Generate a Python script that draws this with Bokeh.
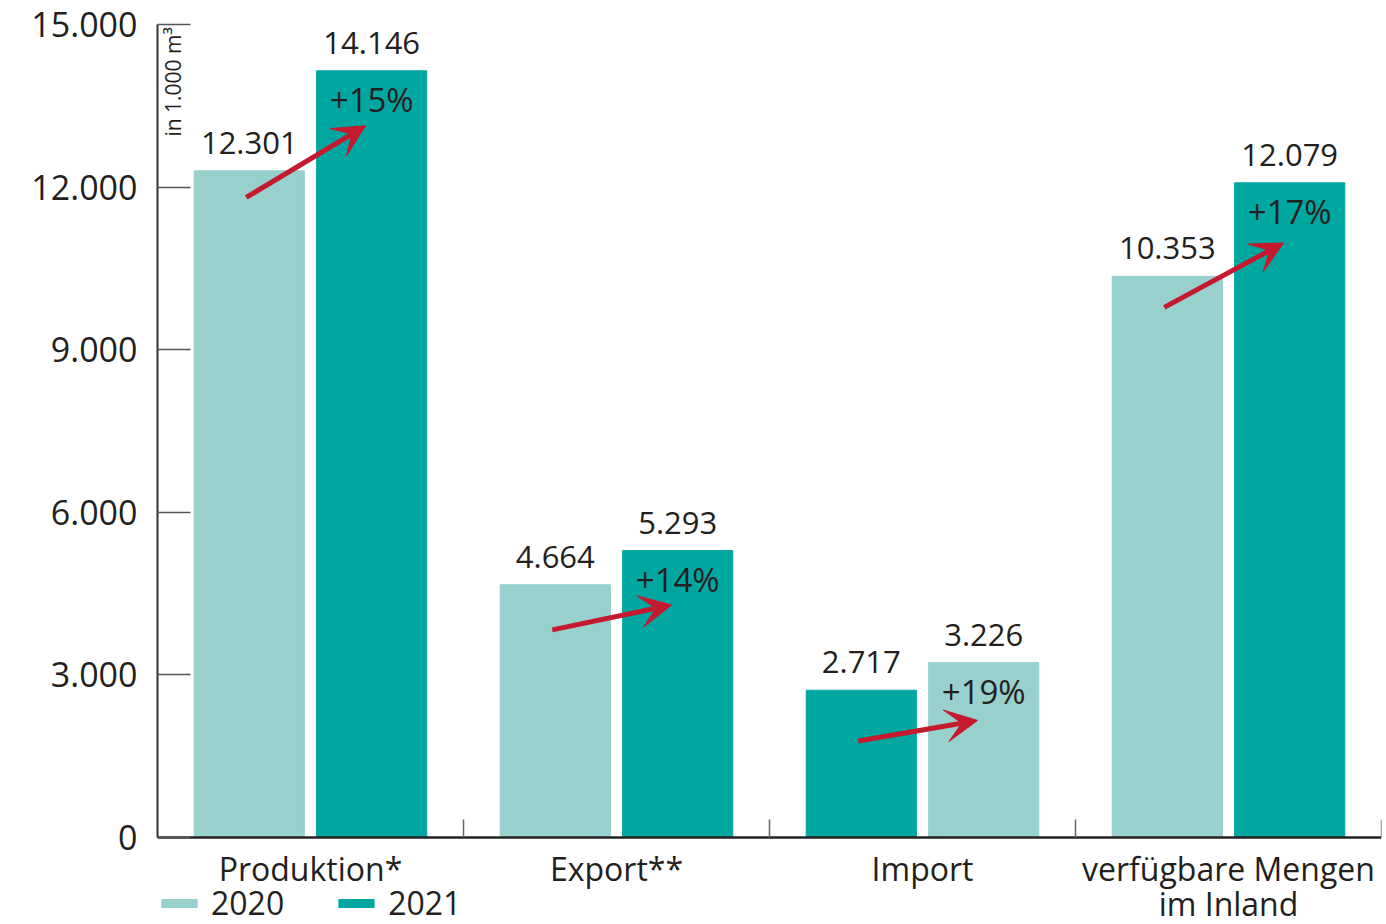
import math
from bokeh.plotting import figure
from bokeh.models import (ColumnDataSource, FixedTicker, Arrow, VeeHead, Label,
                          Legend, LegendItem, Range1d)
from bokeh.core.properties import value
from bokeh.embed import file_html
from bokeh.resources import INLINE

# ---------------- data ----------------
categories = ["Produktion*", "Export**", "Import", "verfügbare Mengen\nim Inland"]
values_2020 = [12301, 4664, 2717, 10353]
values_2021 = [14146, 5293, 3226, 12079]
labels_2020 = ["12.301", "4.664", "2.717", "10.353"]
labels_2021 = ["14.146", "5.293", "3.226", "12.079"]
change_pct = ["+15%", "+14%", "+19%", "+17%"]
# arrow start / end heights (in 1.000 m³)
arrow_from = [11810, 3830, 1780, 9780]
arrow_to = [13130, 4290, 2160, 10970]
y_ticks = [0, 3000, 6000, 9000, 12000, 15000]
y_tick_labels = ["0", "3.000", "6.000", "9.000", "12.000", "15.000"]
unit_label = "in 1.000 m³"
swapped_colour_categories = ["Import"]

# ---------------- style ----------------
LIGHT = "#97d0cc"
DARK = "#00a7a1"
RED = "#c51a2e"
TEXT = "#231f20"
FONT = "Open Sans"
OFF = 0.2
BAR_W = 0.36

W, H = 1384, 924
TOP_PAD = 24          # px above the 15.000 line
ZERO_PX = 837         # px from the top where the value 0 lies
Y_MAX = 15000
plot_px = ZERO_PX - TOP_PAD
below_px = H - ZERO_PX
y_start = -Y_MAX * below_px / plot_px

centers = [i + 0.5 for i in range(len(categories))]
col_2020 = [DARK if c in swapped_colour_categories else LIGHT for c in categories]
col_2021 = [LIGHT if c in swapped_colour_categories else DARK for c in categories]

src20 = ColumnDataSource(dict(x=[c - OFF for c in centers], top=values_2020,
                              lab=labels_2020, color=col_2020))
src21 = ColumnDataSource(dict(x=[c + OFF for c in centers], top=values_2021,
                              lab=labels_2021, pct=change_pct, color=col_2021))

p = figure(width=W, height=H, output_backend="svg", toolbar_location=None,
           x_range=Range1d(0, len(categories)), y_range=Range1d(y_start, Y_MAX),
           min_border_left=157, min_border_right=3, min_border_top=TOP_PAD,
           min_border_bottom=0, outline_line_color=None)
p.xgrid.visible = False
p.ygrid.visible = False
p.background_fill_color = "white"
p.border_fill_color = "white"

r20 = p.vbar(x="x", top="top", bottom=0, width=BAR_W, color="color", source=src20)
r21 = p.vbar(x="x", top="top", bottom=0, width=BAR_W, color="color", source=src21)

# value labels
for src in (src20, src21):
    p.text(x="x", y="top", text="lab", source=src, text_font=value(FONT),
           text_font_size="31px", text_color=TEXT, text_align="center",
           text_baseline="alphabetic", y_offset=-28)
# percentage labels inside 2021 bars
p.text(x="x", y="top", text="pct", source=src21, text_font=value(FONT),
       text_font_size="33px", text_color=TEXT, text_align="center",
       text_baseline="alphabetic", y_offset=29)

# arrows
arrow_src = ColumnDataSource(dict(
    x0=[c - 0.21 for c in centers], y0=arrow_from,
    x1=[c + 0.18 for c in centers], y1=arrow_to))
p.add_layout(Arrow(x_start="x0", y_start="y0", x_end="x1", y_end="y1",
                   source=arrow_src, line_color=RED, line_width=5,
                   end=VeeHead(size=32, fill_color=RED, line_color=RED, line_width=1)))

# axes
xa = p.xaxis[0]
xa.fixed_location = 0
xa.ticker = FixedTicker(ticks=centers, minor_ticks=[1, 2, 3, 4])
xa.major_label_overrides = {c: lab for c, lab in zip(centers, categories)}
xa.major_tick_in = 0
xa.major_tick_out = 0
xa.minor_tick_in = 18
xa.minor_tick_out = 0
xa.minor_tick_line_color = "#666666"
xa.minor_tick_line_width = 1.5
xa.axis_line_width = 2.5
xa.axis_line_color = "#222222"
xa.major_label_text_font = FONT
xa.major_label_text_font_size = "32px"
xa.major_label_text_color = TEXT
xa.major_label_text_line_height = 0.82
xa.major_label_standoff = 9

ya = p.yaxis[0]
ya.ticker = FixedTicker(ticks=y_ticks)
ya.bounds = (0, Y_MAX)
ya.major_label_overrides = {t: lab for t, lab in zip(y_ticks, y_tick_labels)}
ya.major_tick_in = 33
ya.major_tick_out = 0
ya.major_tick_line_color = "#555555"
ya.major_tick_line_width = 1.5
ya.minor_tick_in = 0
ya.minor_tick_out = 0
ya.axis_line_width = 2
ya.axis_line_color = "#333333"
ya.major_label_text_font = FONT
ya.major_label_text_font_size = "34px"
ya.major_label_text_color = TEXT
ya.major_label_standoff = 20

p.add_layout(Label(x=0.052, y=14950, text=unit_label, angle=math.pi / 2,
                   text_align="right", text_baseline="middle",
                   text_font=FONT, text_font_size="21px", text_color=TEXT))

legend = Legend(items=[LegendItem(label="2020", renderers=[r20], index=0),
                       LegendItem(label="2021", renderers=[r21], index=0)],
                orientation="horizontal", location="bottom_left",
                glyph_width=44, glyph_height=10, label_standoff=10, spacing=50,
                padding=0, margin=0, label_text_font=FONT,
                label_text_font_size="32px", label_text_color=TEXT,
                background_fill_alpha=0, border_line_alpha=0)
p.add_layout(legend)

open("out.html", "w").write(file_html(p, INLINE))
